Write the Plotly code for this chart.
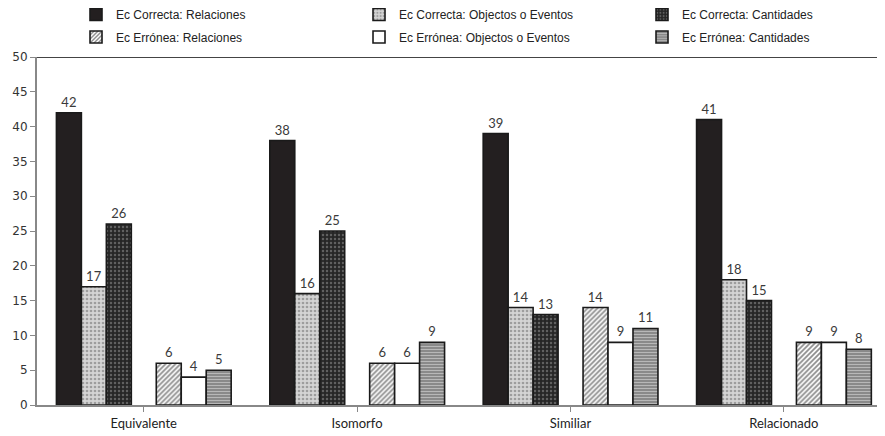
import plotly.graph_objects as go

categories = ["Equivalente", "Isomorfo", "Similiar", "Relacionado"]
series_names = [
    "Ec Correcta: Relaciones",
    "Ec Correcta: Objectos o Eventos",
    "Ec Correcta: Cantidades",
    "Ec Errónea: Relaciones",
    "Ec Errónea: Objectos o Eventos",
    "Ec Errónea: Cantidades",
]
correcta_relaciones = [42, 38, 39, 41]
correcta_objectos = [17, 16, 14, 18]
correcta_cantidades = [26, 25, 13, 15]
erronea_relaciones = [6, 6, 14, 9]
erronea_objectos = [4, 6, 9, 9]
erronea_cantidades = [5, 9, 11, 8]
y_ticks = list(range(0, 51, 5))

values = [correcta_relaciones, correcta_objectos, correcta_cantidades,
          erronea_relaciones, erronea_objectos, erronea_cantidades]

styles = [
    dict(color="#231f20", pattern=None),
    dict(color="#c8c8c8", pattern=dict(shape=".", bgcolor="#d4d4d4", fgcolor="#666", size=4, solidity=0.35)),
    dict(color="#333", pattern=dict(shape=".", bgcolor="#262626", fgcolor="#999", size=4, solidity=0.3)),
    dict(color="white", pattern=dict(shape="/", bgcolor="white", fgcolor="#1a1a1a", size=3.5, solidity=0.5)),
    dict(color="white", pattern=None),
    dict(color="#888", pattern=dict(shape="-", bgcolor="#8a8a8a", fgcolor="#e6e6e6", size=3, solidity=0.35)),
]
slots = [0, 1, 2, 4, 5, 6]
bw = 0.117
start = -0.409

fig = go.Figure()
x_idx = list(range(len(categories)))
for i, (name, vals) in enumerate(zip(series_names, values)):
    st = styles[i]
    marker = dict(color=st["color"], line=dict(color="#1a1a1a", width=1.6))
    if st["pattern"] is not None:
        marker["pattern"] = st["pattern"]
    fig.add_trace(go.Bar(
        x=x_idx, y=vals, name=name,
        width=bw, offset=start + slots[i] * bw,
        marker=marker,
        text=[str(v) for v in vals], textposition="outside",
        textfont=dict(family="Lato, Open Sans, sans-serif", size=13, color="#3a3a3a"),
        cliponaxis=False,
        legend="legend" if i < 3 else "legend2",
    ))

legend_common = dict(
    orientation="h", xanchor="left", yanchor="top",
    font=dict(family="Liberation Sans Narrow, Liberation Sans, sans-serif", size=12, color="#222"),
    entrywidth=238, entrywidthmode="pixels", itemwidth=30,
    bgcolor="rgba(0,0,0,0)",
)

# page body has an 8px margin: figure is sized/offset to compensate
fig.update_layout(
    width=877, height=428,
    margin=dict(l=29, r=0, t=49, b=31, autoexpand=False),
    plot_bgcolor="white", paper_bgcolor="white",
    barmode="overlay",
    showlegend=True,
    legend=dict(x=0.046, y=1.164, **legend_common),
    legend2=dict(x=0.046, y=1.099, **legend_common),
    xaxis=dict(
        range=[-0.5, 3.474],
        tickmode="array", tickvals=x_idx, ticktext=categories,
        tickson="boundaries", ticks="outside", ticklen=5, tickcolor="#888",
        showline=True, linecolor="#888", linewidth=2, showgrid=False, zeroline=False,
        tickfont=dict(family="Lato, Open Sans, sans-serif", size=13, color="#222"),
    ),
    yaxis=dict(
        range=[0, 50], tickvals=y_ticks,
        ticks="outside", ticklen=5, tickcolor="#888",
        showline=True, linecolor="#888", linewidth=2, showgrid=False, zeroline=False,
        tickfont=dict(family="DejaVu Sans, Verdana, sans-serif", size=12, color="#333"),
    ),
    shapes=[dict(type="line", xref="paper", yref="y", x0=0, x1=1, y0=50, y1=50,
                 line=dict(color="#444", width=2))],
)

fig.write_html("out.html")
